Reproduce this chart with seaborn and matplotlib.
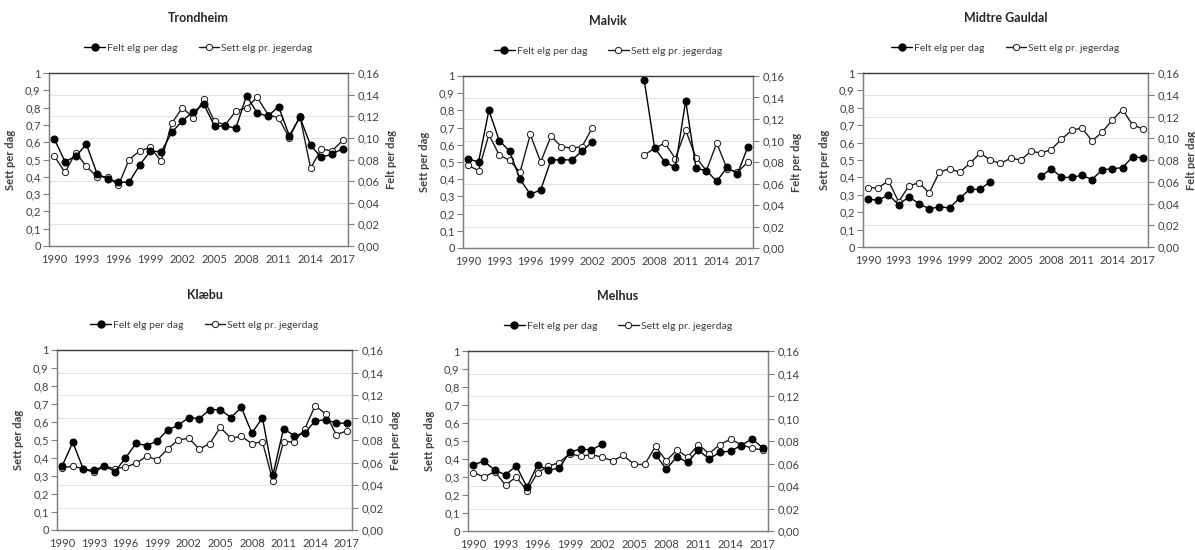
import numpy as np
import pandas as pd
import matplotlib
matplotlib.use("Agg")
import matplotlib.pyplot as plt
from matplotlib.ticker import MultipleLocator, FuncFormatter, FixedLocator
from matplotlib.lines import Line2D
import seaborn as sns


# ==========================================================
# DATA  (Sett = left axis, Felt = right axis)
# ==========================================================

YEARS = list(range(1990, 2018))
TICK_YEARS = list(range(1990, 2018, 3))
nan = np.nan

TRONDHEIM_SETT = [0.52, 0.425, 0.54, 0.46, 0.40, 0.40, 0.35, 0.50, 0.55, 0.57,
                  0.49, 0.71, 0.80, 0.74, 0.85, 0.72, 0.70, 0.78, 0.80, 0.86,
                  0.76, 0.74, 0.625, 0.75, 0.45, 0.56, 0.55, 0.61]
TRONDHEIM_FELT = [0.099, 0.078, 0.083, 0.094, 0.067, 0.062, 0.059, 0.059, 0.075, 0.088,
                  0.087, 0.105, 0.116, 0.124, 0.131, 0.111, 0.111, 0.109, 0.139, 0.123,
                  0.120, 0.129, 0.102, 0.119, 0.093, 0.082, 0.085, 0.090]

MALVIK_SETT = [0.48, 0.45, 0.66, 0.54, 0.51, 0.44, 0.66, 0.50, 0.65, 0.59,
               0.58, 0.59, 0.70, nan, nan, nan, nan, 0.54, 0.58, 0.61,
               0.52, 0.685, 0.525, 0.45, 0.61, 0.46, 0.44, 0.50]
MALVIK_FELT = [0.083, 0.080, 0.128, 0.100, 0.090, 0.064, 0.050, 0.054, 0.082, 0.082,
               0.082, 0.090, 0.099, nan, nan, nan, nan, 0.156, 0.093, 0.080,
               0.075, 0.137, 0.074, 0.072, 0.062, 0.075, 0.069, 0.094]

GAULDAL_SETT = [0.34, 0.34, 0.38, 0.26, 0.35, 0.37, 0.31, 0.43, 0.45, 0.43,
                0.48, 0.54, 0.50, 0.48, 0.51, 0.50, 0.55, 0.54, 0.56, 0.62,
                0.67, 0.685, 0.61, 0.66, 0.73, 0.79, 0.70, 0.68]
GAULDAL_FELT = [0.044, 0.043, 0.048, 0.039, 0.046, 0.040, 0.035, 0.037, 0.036, 0.045,
                0.053, 0.053, 0.060, nan, nan, nan, nan, 0.065, 0.072, 0.064,
                0.064, 0.066, 0.062, 0.071, 0.072, 0.073, 0.083, 0.082]

KLAEBU_SETT = [0.345, 0.355, 0.34, 0.32, 0.355, 0.34, 0.35, 0.37, 0.41, 0.39,
               0.45, 0.50, 0.51, 0.45, 0.48, 0.57, 0.51, 0.52, 0.48, 0.49,
               0.27, 0.49, 0.49, 0.56, 0.69, 0.645, 0.53, 0.55]
KLAEBU_FELT = [0.057, 0.078, 0.054, 0.053, 0.057, 0.052, 0.064, 0.077, 0.075, 0.079,
               0.089, 0.093, 0.100, 0.099, 0.107, 0.107, 0.100, 0.109, 0.086, 0.100,
               0.049, 0.090, 0.084, 0.086, 0.097, 0.098, 0.095, 0.095]

MELHUS_SETT = [0.325, 0.30, 0.33, 0.255, 0.30, 0.225, 0.325, 0.36, 0.38, 0.43,
               0.415, 0.425, 0.41, 0.39, 0.42, 0.37, 0.37, 0.47, 0.39, 0.45,
               0.41, 0.48, 0.43, 0.48, 0.51, 0.48, 0.46, 0.45]
MELHUS_FELT = [0.059, 0.062, 0.054, 0.050, 0.058, 0.039, 0.059, 0.054, 0.056, 0.070,
               0.073, 0.072, 0.077, nan, nan, nan, nan, 0.068, 0.055, 0.066,
               0.061, 0.072, 0.064, 0.070, 0.071, 0.076, 0.082, 0.074]

# name, sett, felt, plot box in pixels (left, right, top, bottom), show right label
PANELS = [
    ("Trondheim", TRONDHEIM_SETT, TRONDHEIM_FELT, (49, 348, 73, 246), True),
    ("Malvik", MALVIK_SETT, MALVIK_FELT, (463, 753, 76, 248), True),
    ("Midtre Gauldal", GAULDAL_SETT, GAULDAL_FELT, (863, 1148, 73, 247), True),
    ("Klæbu", KLAEBU_SETT, KLAEBU_FELT, (57, 352, 350, 530), True),
    ("Melhus", MELHUS_SETT, MELHUS_FELT, (468, 768, 351, 531), False),
]

W, H = 1195, 550
TEXT = "#404040"
AXC = "#7f7f7f"


def to_frame(values):
    df = pd.DataFrame({"year": YEARS, "value": values})
    # new segment after every gap so lines break at missing years
    df["seg"] = df["value"].isna().cumsum()
    return df.dropna()


def comma(decimals):
    def fmt(v, pos):
        if decimals == 0:
            s = f"{v:.1f}".rstrip("0").rstrip(".")
        else:
            s = f"{v:.{decimals}f}"
        return s.replace(".", ",")
    return FuncFormatter(fmt)


sns.set_style("white")
plt.rcParams["font.family"] = ["Lato", "DejaVu Sans"]

fig = plt.figure(figsize=(W / 100, H / 100), dpi=100)

for name, sett, felt, (l, r, t, b), right_label in PANELS:
    ax = fig.add_axes([l / W, 1 - b / H, (r - l) / W, (b - t) / H])
    ax2 = ax.twinx()

    sns.lineplot(data=to_frame(sett), x="year", y="value", units="seg",
                 estimator=None, ax=ax, color="#1a1a1a", linewidth=1.0,
                 marker="o", markersize=4.5, markerfacecolor="white",
                 markeredgecolor="#1a1a1a", markeredgewidth=0.7, legend=False)
    sns.lineplot(data=to_frame(felt), x="year", y="value", units="seg",
                 estimator=None, ax=ax2, color="black", linewidth=1.0,
                 marker="o", markersize=5, markerfacecolor="black",
                 markeredgecolor="black", legend=False)

    ax.set_xlim(1989.5, 2017.5)
    ax.set_ylim(0, 1)
    ax2.set_ylim(0, 0.16)

    ax.set_xticks(TICK_YEARS)
    ax.xaxis.set_minor_locator(FixedLocator(np.arange(1989.5, 2018, 1)))
    ax.tick_params(axis="x", which="major", length=0, pad=6, labelsize=8, colors=TEXT)
    ax.tick_params(axis="x", which="minor", length=4, color=AXC, width=0.8)

    ax.yaxis.set_major_locator(MultipleLocator(0.1))
    ax.yaxis.set_major_formatter(comma(0))
    ax.yaxis.set_minor_locator(MultipleLocator(0.125))
    ax.tick_params(axis="y", which="major", length=4, color=AXC, width=0.8,
                   labelsize=8, colors=TEXT, pad=2)
    ax.tick_params(axis="y", which="minor", length=0)
    ax.grid(axis="y", which="minor", color="#e3e3e3", linewidth=0.7)
    ax.grid(axis="y", which="major", visible=False)

    ax2.yaxis.set_major_locator(MultipleLocator(0.02))
    ax2.yaxis.set_major_formatter(comma(2))
    ax2.tick_params(axis="y", length=4, color=AXC, width=0.8,
                    labelsize=8, colors=TEXT, pad=3)
    ax2.grid(False)

    for a in (ax, ax2):
        for side, sp in a.spines.items():
            sp.set_visible(True)
            sp.set_color(AXC)
            sp.set_linewidth(0.9)
        a.spines["top"].set_color("#404040")

    ax.set_xlabel("")
    ax.set_ylabel("Sett per dag", fontsize=8, fontweight="bold", color=TEXT)
    ax.yaxis.set_label_coords(-33 / (r - l), 0.5)
    if right_label:
        ax2.set_ylabel("Felt per dag", fontsize=8, fontweight="bold", color=TEXT,
                       rotation=90)
        ax2.yaxis.set_label_coords(1 + 38 / (r - l), 0.5)
    else:
        ax2.set_ylabel("")

    cx = (l + r) / 2 / W
    fig.text(cx, 1 - (t - 55) / H, name, ha="center", va="center",
             fontsize=9, fontweight="bold", color="#262626")

    handles = [
        Line2D([], [], color="black", linewidth=1.0, marker="o", markersize=5,
               markerfacecolor="black", markeredgecolor="black"),
        Line2D([], [], color="#1a1a1a", linewidth=1.0, marker="o", markersize=4.5,
               markerfacecolor="white", markeredgecolor="#1a1a1a", markeredgewidth=0.7),
    ]
    fig.legend(handles, ["Felt elg per dag", "Sett elg pr. jegerdag"],
               loc="center", bbox_to_anchor=(cx, 1 - (t - 25) / H),
               ncol=2, frameon=False, fontsize=7.5, handlelength=2.0,
               handletextpad=0.2, columnspacing=2.0, labelcolor=TEXT)

fig.savefig("out.png", dpi=100)
